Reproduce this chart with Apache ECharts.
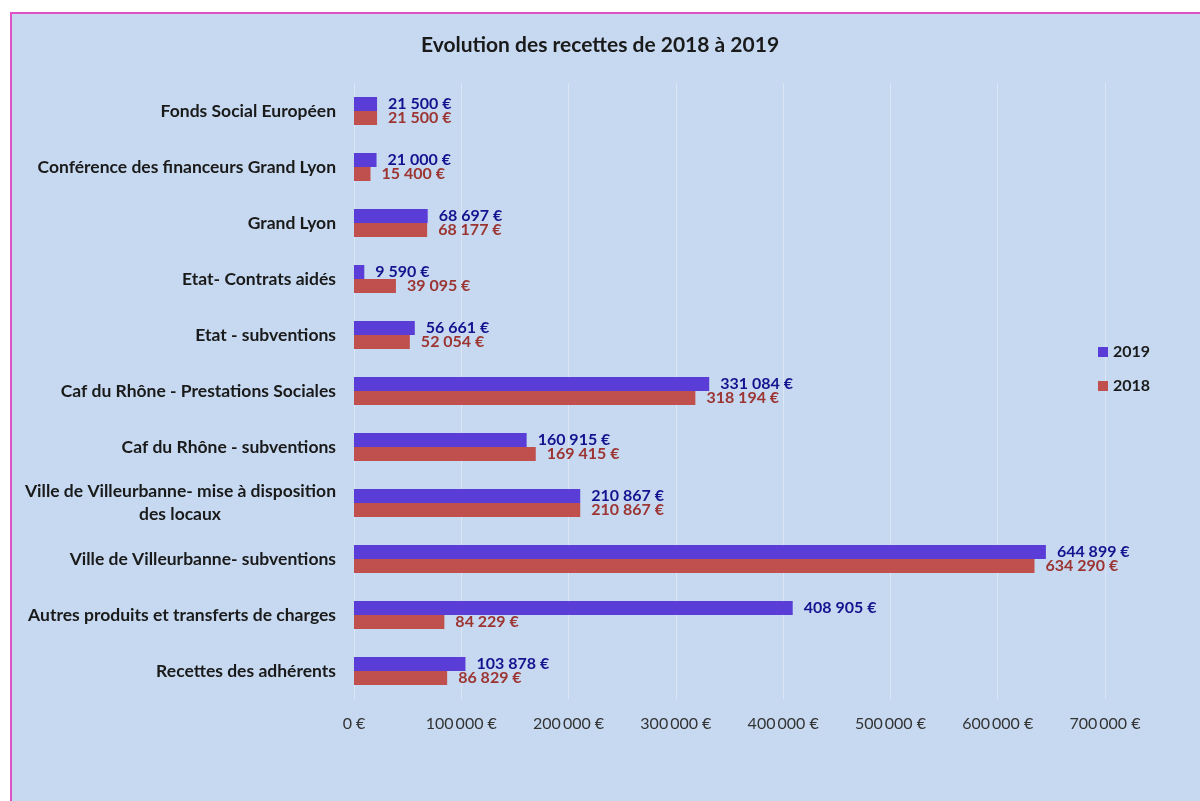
<!DOCTYPE html>
<html>
<head>
<meta charset="utf-8">
<script src="https://cdn.jsdelivr.net/npm/echarts@6/dist/echarts.min.js"></script>
<style>
  html, body { margin: 0; padding: 0; background: #fff; }
  #recettes { width: 1200px; height: 801px; }
</style>
</head>
<body>
<div id="recettes"></div>
<script>
  // categories, top to bottom
  var categories = [
    'Fonds Social Européen',
    'Conférence des financeurs Grand Lyon',
    'Grand Lyon',
    'Etat- Contrats aidés',
    'Etat - subventions',
    'Caf du Rhône - Prestations Sociales',
    'Caf du Rhône - subventions',
    'Ville de Villeurbanne- mise à disposition\ndes locaux',
    'Ville de Villeurbanne- subventions',
    'Autres produits et transferts de charges',
    'Recettes des adhérents'
  ]
  var values2019 = [21500, 21000, 68697, 9590, 56661, 331084, 160915, 210867, 644899, 408905, 103878]
  var values2018 = [21500, 15400, 68177, 39095, 52054, 318194, 169415, 210867, 634290, 84229, 86829]
  var axisMax = 700000
  var axisStep = 100000

  var fontFamily = 'Lato, "Open Sans", sans-serif'

  // 21500 -> "21 500 €"
  function euro (v, sep) {
    var s = String(Math.round(v)).replace(/\B(?=(\d{3})+(?!\d))/g, sep)
    return s + ' €'
  }

  function makeSeries (name, data, barColor, labelColor) {
    return {
      name: name,
      type: 'bar',
      data: data,
      barWidth: 14,
      barGap: '0%',
      itemStyle: {color: barColor},
      label: {
        show: true,
        position: 'right',
        distance: 11,
        color: labelColor,
        fontFamily: fontFamily,
        fontWeight: 'bold',
        fontSize: 16,
        formatter: function (p) { return euro(p.value, ' ') }
      }
    }
  }

  var option = {
    backgroundColor: '#ffffff',
    animation: false,
    graphic: [{
      type: 'rect',
      z: -1,
      shape: {x: 11, y: 13, width: 1300, height: 900},
      style: {fill: '#c6d9f0', stroke: '#df52c6', lineWidth: 2}
    }],
    title: {
      text: 'Evolution des recettes de 2018 à 2019',
      left: 'center',
      top: 30,
      textStyle: {color: '#1a1a1a', fontFamily: fontFamily, fontWeight: 'bold', fontSize: 21}
    },
    legend: {
      orient: 'vertical',
      left: 1093,
      top: 339,
      itemWidth: 10,
      itemHeight: 10,
      itemGap: 18,
      icon: 'rect',
      data: ['2019', '2018'],
      textStyle: {color: '#1a1a1a', fontFamily: fontFamily, fontWeight: 'bold', fontSize: 16}
    },
    grid: {left: 354, right: 95, top: 83, bottom: 102, containLabel: false},
    xAxis: {
      type: 'value',
      min: 0,
      max: axisMax,
      interval: axisStep,
      axisLine: {show: false},
      axisTick: {show: false},
      splitLine: {show: true, lineStyle: {color: '#dbe6f3', width: 1}},
      axisLabel: {
        margin: 17,
        color: '#333333',
        fontFamily: fontFamily,
        fontSize: 16,
        formatter: function (v) { return euro(v, '\u2009') }
      }
    },
    yAxis: {
      type: 'category',
      inverse: true,
      data: categories,
      axisLine: {show: false},
      axisTick: {show: false},
      axisLabel: {
        margin: 18,
        color: '#1a1a1a',
        fontFamily: fontFamily,
        fontWeight: 'bold',
        fontSize: 17.5,
        lineHeight: 23,
        formatter: function (v) {
          var parts = v.split('\n')
          if (parts.length === 1) return v
          return parts[0] + '\n{c|' + parts[1] + '}'
        },
        rich: {
          c: {
            color: '#1a1a1a',
            fontFamily: fontFamily,
            fontWeight: 'bold',
            fontSize: 17.5,
            lineHeight: 23,
            padding: [0, 115, 0, 0]
          }
        }
      }
    },
    series: [
      makeSeries('2019', values2019, '#5a3dd6', '#13138f'),
      makeSeries('2018', values2018, '#c0504d', '#9c3432')
    ]
  }

  var chart = echarts.init(document.getElementById('recettes'))
  chart.setOption(option)
</script>
</body>
</html>
